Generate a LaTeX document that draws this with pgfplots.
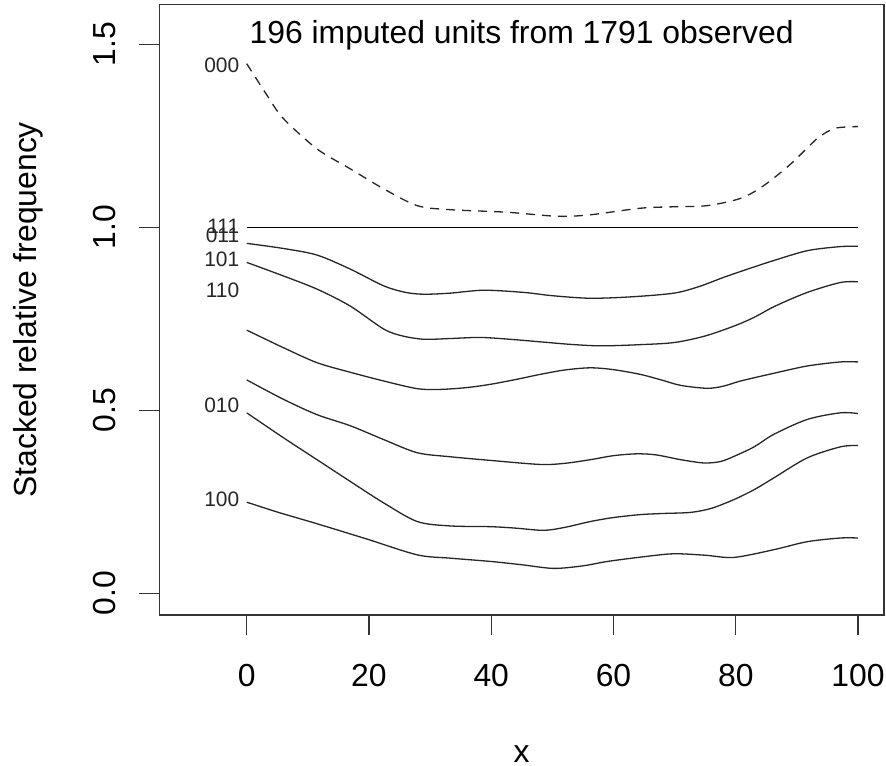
\documentclass[border=0pt]{standalone}
\usepackage{fontspec}
\setmainfont{Liberation Sans}
\usepackage{pgfplots}
\pgfplotsset{compat=1.18}
\begin{document}
\fontsize{32}{38}\selectfont
\begin{tikzpicture}
\begin{axis}[
  scale only axis, width=724.7bp, height=610.3bp,
  xmin=-14.3, xmax=104.25, ymin=-0.0593, ymax=1.608,
  axis line style={line width=1.3bp, black!80},
  xtick={0,20,40,60,80,100},
  ytick={0,0.5,1,1.5}, yticklabels={0.0,0.5,1.0,1.5},
  xtick pos=left, ytick pos=left,
  tick align=outside, major tick length=20bp,
  every tick/.style={line width=1.3bp, black!80},
  tick label style={font=\fontsize{32}{38}\selectfont, inner sep=0pt},
  /pgf/number format/assume math mode=true,
  xticklabel style={anchor=base},
  xticklabel shift=51bp,
  yticklabel style={rotate=90, anchor=base},
  yticklabel shift=24.3bp,
  xlabel={x}, ylabel={Stacked relative frequency},
  xlabel style={at={([yshift=-147bp]rel axis cs:0.5,0)}, anchor=base, inner sep=0pt, font=\fontsize{32}{38}\selectfont},
  ylabel style={at={([xshift=-122.6bp]rel axis cs:0,0.5)}, rotate=0, anchor=base, inner sep=0pt, font=\fontsize{32}{38}\selectfont},
  clip=false,
]
% top (000), dashed
\addplot[black!85, line width=1.3bp, smooth, dash pattern=on 9bp off 7bp] coordinates {
(0,1.447)(3.3,1.361)(6,1.297)(11.5,1.214)(16.9,1.160)(22.4,1.105)(27.9,1.059)(33.3,1.048)
(42.6,1.041)(50.8,1.030)(56.2,1.034)(64.4,1.052)(70,1.056)(75.3,1.059)(80.8,1.079)
(84.6,1.114)(89,1.173)(93.3,1.242)(96,1.269)(98.2,1.274)(100,1.275)};
% 1.0 line
\addplot[black, line width=1.3bp] coordinates {(0,1)(100,1)};
% F
\addplot[black!85, line width=1.3bp, smooth] coordinates {
(0,0.956)(6,0.942)(11.5,0.924)(16.9,0.886)(22.4,0.840)(26,0.822)(29,0.817)(33.3,0.820)
(38.8,0.828)(45.3,0.822)(50,0.813)(56.2,0.806)(63,0.810)(69.9,0.820)(74,0.838)(78,0.863)
(82,0.886)(86.2,0.909)(91.7,0.936)(97,0.947)(100,0.948)};
% E
\addplot[black!85, line width=1.3bp, smooth] coordinates {
(0,0.904)(6,0.867)(11.5,0.831)(16.9,0.785)(22.4,0.722)(25.5,0.703)(29,0.694)(33.3,0.696)
(38.2,0.699)(43,0.694)(48,0.687)(53,0.680)(57.9,0.676)(64,0.679)(69.9,0.685)(75,0.703)
(79.7,0.730)(82.9,0.753)(86.5,0.785)(91.7,0.822)(97.1,0.849)(100,0.851)};
% D
\addplot[black!85, line width=1.3bp, smooth] coordinates {
(0,0.719)(6,0.671)(11.5,0.630)(16.9,0.604)(22.4,0.580)(27.9,0.559)(31.7,0.557)(36,0.562)
(39.9,0.571)(44,0.584)(48,0.598)(52,0.610)(56.2,0.616)(60,0.611)(64.4,0.598)(68,0.582)
(71,0.568)(75.3,0.560)(78,0.566)(80.8,0.580)(86.2,0.601)(91.7,0.621)(97.1,0.632)(100,0.632)};
% C
\addplot[black!85, line width=1.3bp, smooth] coordinates {
(0,0.583)(6,0.530)(11.5,0.488)(16.9,0.458)(22.4,0.420)(27.9,0.384)(33.3,0.373)(39.9,0.363)
(48,0.352)(52,0.355)(56.2,0.365)(60,0.376)(63.8,0.381)(67,0.378)(71,0.365)(74.8,0.356)
(77.5,0.360)(79.7,0.374)(83,0.400)(86.2,0.434)(91.7,0.475)(97.1,0.493)(100,0.491)};
% B
\addplot[black!85, line width=1.3bp, smooth] coordinates {
(0,0.493)(6,0.425)(11.5,0.365)(16.9,0.306)(22.4,0.247)(27.9,0.196)(33.3,0.184)(39.9,0.182)
(44,0.178)(48.6,0.172)(52,0.180)(56.2,0.196)(60,0.207)(64.4,0.215)(68,0.218)(72.6,0.221)
(76,0.232)(79.7,0.256)(83,0.283)(86.2,0.315)(91.7,0.370)(97.1,0.400)(100,0.404)};
% A
\addplot[black!85, line width=1.3bp, smooth] coordinates {
(0,0.249)(5,0.222)(11.5,0.190)(19.7,0.148)(27.9,0.105)(33.3,0.096)(39.9,0.087)(45,0.078)
(50.2,0.068)(55,0.075)(59,0.087)(65,0.100)(69.9,0.108)(75,0.104)(79.7,0.098)(86.2,0.119)
(91.7,0.141)(97.1,0.151)(100,0.151)};
% band labels
\begin{scope}[every node/.style={anchor=base east, inner sep=0pt, text=black!85, font=\fontsize{21}{25}\selectfont}]
\node at (axis cs:-1.2,1.424) {000};
\node at (axis cs:-1.2,0.983) {111};
\node at (axis cs:-1.2,0.958) {011};
\node at (axis cs:-1.2,0.894) {101};
\node at (axis cs:-1.2,0.808) {110};
\node at (axis cs:-1.2,0.4934) {010};
\node at (axis cs:-1.2,0.2366) {100};
\end{scope}
\node[anchor=base, inner sep=0pt, yshift=-39.3bp] at (rel axis cs:0.5,1) {196 imputed units from 1791 observed};
\end{axis}
\path (current axis.south west) ++(-159.3bp,-151bp) rectangle ++(886bp,766bp);
\end{tikzpicture}
\end{document}
